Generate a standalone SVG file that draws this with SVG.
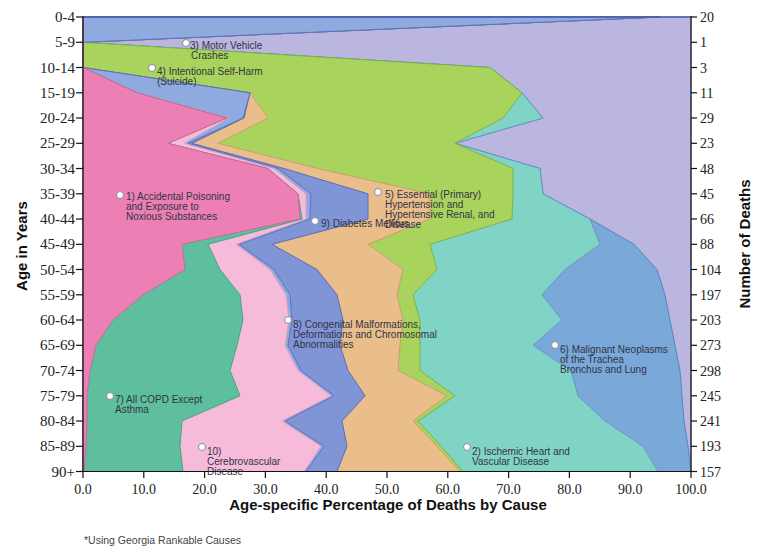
<svg xmlns="http://www.w3.org/2000/svg" width="765" height="546" viewBox="0 0 765 546">
<style>
.ar{stroke-width:1;stroke-linejoin:round}
.lb{font-family:"Liberation Sans",Arial,sans-serif;font-size:10px;fill:#333344}
.dot{fill:#ffffff;stroke:#8a8a9a;stroke-width:1}
.tk{stroke:#111;stroke-width:1.2}
.yl{font-family:"Liberation Serif","Times New Roman",serif;font-size:15px;fill:#222;text-anchor:end}
.yr{font-family:"Liberation Serif","Times New Roman",serif;font-size:14px;fill:#222}
.xl{font-family:"Liberation Serif","Times New Roman",serif;font-size:14px;fill:#222;text-anchor:middle}
.ttl{font-family:"Liberation Sans",Arial,sans-serif;font-size:15px;font-weight:bold;fill:#111;text-anchor:middle}
.fn{font-family:"Liberation Sans",Arial,sans-serif;font-size:10.5px;fill:#444}
</style>
<rect width="765" height="546" fill="#ffffff"/>
<g id="areas">
<rect id="motor-vehicle" x="83" y="17" width="608" height="454.5" fill="#bab6df" stroke="#8f8cc7" class="ar"/>
<polygon id="malignant" class="ar" fill="#7aa8d8" stroke="#5b84c0" points="83,17 660,17 83,42.3 490,67.5 522,92.8 543,118 455,143.3 540,168.5 543,193.8 590,219 634,244.3 657,269.5 665,294.8 670,320 675,345.3 680,370.5 682,395.8 684,421 688,446.3 691,471.5 83,471.5"/>
<polygon id="ischemic" class="ar" fill="#80d4c5" stroke="#6b93c4" points="83,17 660,17 83,42.3 490,67.5 522,92.8 543,118 455,143.3 540,168.5 543,193.8 590,219 600,244.3 565,269.5 542,294.8 562,320 533,345.3 571,370.5 578,395.8 605,421 643,446.3 658,471.5 83,471.5"/>
<polygon id="suicide" class="ar" fill="#a8d35c" stroke="#7fb04a" points="83,17 660,17 83,42.3 490,67.5 522,92.8 503,118 455,143.3 513,168.5 513,193.8 512,219 430,244.3 437,269.5 413,294.8 420,320 420,345.3 420,370.5 455,395.8 418,421 441,446.3 463,471.5 83,471.5"/>
<polygon id="hypertension" class="ar" fill="#e9be8b" stroke="#c9a070" points="83,17 660,17 83,42.3 83,67.5 250,92.8 268,118 218,143.3 318,168.5 430,193.8 430,219 368,244.3 403,269.5 397,294.8 403,320 400,345.3 398,370.5 447,395.8 413,421 437,446.3 460,471.5 83,471.5"/>
<polygon id="diabetes" class="ar" fill="#7f95d6" stroke="#5a6cb8" points="83,17 660,17 83,42.3 83,67.5 250,92.8 244,118 192,143.3 284,168.5 368,193.8 368,219 272,244.3 317,269.5 337,294.8 343,320 340,345.3 348,370.5 365,395.8 342,421 347,446.3 337,471.5 83,471.5"/>
<polygon id="congenital" class="ar" fill="#8eaadf" stroke="#5e72bb" points="83,17 660,17 83,42.3 83,67.5 250,92.8 243,118 188,143.3 278,168.5 311,193.8 310,219 239,244.3 274,269.5 290,294.8 292,320 288,345.3 301,370.5 334,395.8 285,421 324,446.3 306,471.5 83,471.5"/>
<polygon id="cerebrovascular" class="ar" fill="#f6bbd9" stroke="#e0a0c6" points="83,17 83,42.3 83,67.5 137,92.8 229,118 184,143.3 274,168.5 306,193.8 306,219 236,244.3 270,269.5 286,294.8 289,320 285,345.3 298,370.5 331,395.8 282,421 321,446.3 304,471.5 83,471.5"/>
<polygon id="copd" class="ar" fill="#5dbf9d" stroke="#4aa286" points="83,17 83,42.3 83,67.5 137,92.8 227,118 168,143.3 268,168.5 298,193.8 302,219 208,244.3 220,269.5 240,294.8 243,320 237,345.3 230,370.5 240,395.8 182,421 180,446.3 183,471.5 83,471.5"/>
<polygon id="poisoning" class="ar" fill="#ec80b4" stroke="#c9699c" points="83,17 83,42.3 83,67.5 137,92.8 227,118 168,143.3 268,168.5 298,193.8 300,219 182,244.3 185,269.5 143,294.8 113,320 96,345.3 90,370.5 87,395.8 87,421 86,446.3 84,471.5 83,471.5"/>
<line x1="83" y1="17" x2="691" y2="17" stroke="#4a5aa8" stroke-width="1.5"/>
</g>
<g id="labels">
<g id="label-1"><circle class="dot" cx="120" cy="195" r="3.5"/><text class="lb"><tspan x="126" y="200">1) Accidental Poisoning</tspan><tspan x="126" y="210">and Exposure to</tspan><tspan x="126" y="220">Noxious Substances</tspan></text></g>
<g id="label-3"><circle class="dot" cx="186" cy="43" r="3.5"/><text class="lb"><tspan x="190" y="49">3) Motor Vehicle</tspan><tspan x="191" y="59">Crashes</tspan></text></g>
<g id="label-4"><circle class="dot" cx="152" cy="68" r="3.5"/><text class="lb"><tspan x="157" y="75">4) Intentional Self-Harm</tspan><tspan x="157" y="85">(Suicide)</tspan></text></g>
<g id="label-5"><circle class="dot" cx="378" cy="192" r="3.5"/><text class="lb"><tspan x="385" y="198">5) Essential (Primary)</tspan><tspan x="385" y="208">Hypertension and</tspan><tspan x="385" y="218">Hypertensive Renal, and</tspan><tspan x="385" y="228">Disease</tspan></text></g>
<g id="label-9"><circle class="dot" cx="315" cy="221" r="3.5"/><text class="lb" x="321" y="227">9) Diabetes Mellitus</text></g>
<g id="label-8"><circle class="dot" cx="288" cy="320" r="3.5"/><text class="lb"><tspan x="293" y="328">8) Congenital Malformations,</tspan><tspan x="293" y="338">Deformations and Chromosomal</tspan><tspan x="293" y="348">Abnormalities</tspan></text></g>
<g id="label-6"><circle class="dot" cx="555" cy="345" r="3.5"/><text class="lb"><tspan x="560" y="353">6) Malignant Neoplasms</tspan><tspan x="560" y="363">of the Trachea</tspan><tspan x="560" y="373">Bronchus and Lung</tspan></text></g>
<g id="label-7"><circle class="dot" cx="110" cy="396" r="3.5"/><text class="lb"><tspan x="115" y="403">7) All COPD Except</tspan><tspan x="115" y="413">Asthma</tspan></text></g>
<g id="label-10"><circle class="dot" cx="202" cy="447" r="3.5"/><text class="lb"><tspan x="207" y="455">10)</tspan><tspan x="207" y="465">Cerebrovascular</tspan><tspan x="207" y="475">Disease</tspan></text></g>
<g id="label-2"><circle class="dot" cx="467" cy="447" r="3.5"/><text class="lb"><tspan x="472" y="455">2) Ischemic Heart and</tspan><tspan x="472" y="465">Vascular Disease</tspan></text></g>
</g>
<g id="axes">
<line class="tk" x1="83" y1="16" x2="83" y2="472"/>
<line class="tk" x1="691" y1="16" x2="691" y2="472"/>
<line class="tk" x1="82.5" y1="471.5" x2="691.5" y2="471.5"/>
<g class="tk">
<line x1="76" y1="17" x2="83" y2="17"/><line x1="76" y1="42.3" x2="83" y2="42.3"/><line x1="76" y1="67.5" x2="83" y2="67.5"/><line x1="76" y1="92.8" x2="83" y2="92.8"/><line x1="76" y1="118" x2="83" y2="118"/><line x1="76" y1="143.3" x2="83" y2="143.3"/><line x1="76" y1="168.5" x2="83" y2="168.5"/><line x1="76" y1="193.8" x2="83" y2="193.8"/><line x1="76" y1="219" x2="83" y2="219"/><line x1="76" y1="244.3" x2="83" y2="244.3"/><line x1="76" y1="269.5" x2="83" y2="269.5"/><line x1="76" y1="294.8" x2="83" y2="294.8"/><line x1="76" y1="320" x2="83" y2="320"/><line x1="76" y1="345.3" x2="83" y2="345.3"/><line x1="76" y1="370.5" x2="83" y2="370.5"/><line x1="76" y1="395.8" x2="83" y2="395.8"/><line x1="76" y1="421" x2="83" y2="421"/><line x1="76" y1="446.3" x2="83" y2="446.3"/><line x1="76" y1="471.5" x2="83" y2="471.5"/>
<line x1="691" y1="17" x2="697" y2="17"/><line x1="691" y1="42.3" x2="697" y2="42.3"/><line x1="691" y1="67.5" x2="697" y2="67.5"/><line x1="691" y1="92.8" x2="697" y2="92.8"/><line x1="691" y1="118" x2="697" y2="118"/><line x1="691" y1="143.3" x2="697" y2="143.3"/><line x1="691" y1="168.5" x2="697" y2="168.5"/><line x1="691" y1="193.8" x2="697" y2="193.8"/><line x1="691" y1="219" x2="697" y2="219"/><line x1="691" y1="244.3" x2="697" y2="244.3"/><line x1="691" y1="269.5" x2="697" y2="269.5"/><line x1="691" y1="294.8" x2="697" y2="294.8"/><line x1="691" y1="320" x2="697" y2="320"/><line x1="691" y1="345.3" x2="697" y2="345.3"/><line x1="691" y1="370.5" x2="697" y2="370.5"/><line x1="691" y1="395.8" x2="697" y2="395.8"/><line x1="691" y1="421" x2="697" y2="421"/><line x1="691" y1="446.3" x2="697" y2="446.3"/><line x1="691" y1="471.5" x2="697" y2="471.5"/>
<line x1="83" y1="471.5" x2="83" y2="478"/><line x1="143.8" y1="471.5" x2="143.8" y2="478"/><line x1="204.6" y1="471.5" x2="204.6" y2="478"/><line x1="265.4" y1="471.5" x2="265.4" y2="478"/><line x1="326.2" y1="471.5" x2="326.2" y2="478"/><line x1="387" y1="471.5" x2="387" y2="478"/><line x1="447.8" y1="471.5" x2="447.8" y2="478"/><line x1="508.6" y1="471.5" x2="508.6" y2="478"/><line x1="569.4" y1="471.5" x2="569.4" y2="478"/><line x1="630.2" y1="471.5" x2="630.2" y2="478"/><line x1="691" y1="471.5" x2="691" y2="478"/>
</g>
<g>
<text class="yl" x="75" y="22">0-4</text><text class="yl" x="75" y="47.3">5-9</text><text class="yl" x="75" y="72.5">10-14</text><text class="yl" x="75" y="97.8">15-19</text><text class="yl" x="75" y="123">20-24</text><text class="yl" x="75" y="148.3">25-29</text><text class="yl" x="75" y="173.5">30-34</text><text class="yl" x="75" y="198.8">35-39</text><text class="yl" x="75" y="224">40-44</text><text class="yl" x="75" y="249.3">45-49</text><text class="yl" x="75" y="274.5">50-54</text><text class="yl" x="75" y="299.8">55-59</text><text class="yl" x="75" y="325">60-64</text><text class="yl" x="75" y="350.3">65-69</text><text class="yl" x="75" y="375.5">70-74</text><text class="yl" x="75" y="400.8">75-79</text><text class="yl" x="75" y="426">80-84</text><text class="yl" x="75" y="451.3">85-89</text><text class="yl" x="75" y="476.5">90+</text>
</g>
<g>
<text class="yr" x="700" y="22">20</text><text class="yr" x="700" y="47.3">1</text><text class="yr" x="700" y="72.5">3</text><text class="yr" x="700" y="97.8">11</text><text class="yr" x="700" y="123">29</text><text class="yr" x="700" y="148.3">23</text><text class="yr" x="700" y="173.5">48</text><text class="yr" x="700" y="198.8">45</text><text class="yr" x="700" y="224">66</text><text class="yr" x="700" y="249.3">88</text><text class="yr" x="700" y="274.5">104</text><text class="yr" x="700" y="299.8">197</text><text class="yr" x="700" y="325">203</text><text class="yr" x="700" y="350.3">273</text><text class="yr" x="700" y="375.5">298</text><text class="yr" x="700" y="400.8">245</text><text class="yr" x="700" y="426">241</text><text class="yr" x="700" y="451.3">193</text><text class="yr" x="700" y="476.5">157</text>
</g>
<g>
<text class="xl" x="83" y="494">0.0</text><text class="xl" x="143.8" y="494">10.0</text><text class="xl" x="204.6" y="494">20.0</text><text class="xl" x="265.4" y="494">30.0</text><text class="xl" x="326.2" y="494">40.0</text><text class="xl" x="387" y="494">50.0</text><text class="xl" x="447.8" y="494">60.0</text><text class="xl" x="508.6" y="494">70.0</text><text class="xl" x="569.4" y="494">80.0</text><text class="xl" x="630.2" y="494">90.0</text><text class="xl" x="691" y="494">100.0</text>
</g>
<text class="ttl" x="388" y="510">Age-specific Percentage of Deaths by Cause</text>
<text class="ttl" transform="translate(27,246) rotate(-90)">Age in Years</text>
<text class="ttl" transform="translate(750,244) rotate(-90)">Number of Deaths</text>
<text class="fn" x="84" y="544">*Using Georgia Rankable Causes</text>
</g>
</svg>
